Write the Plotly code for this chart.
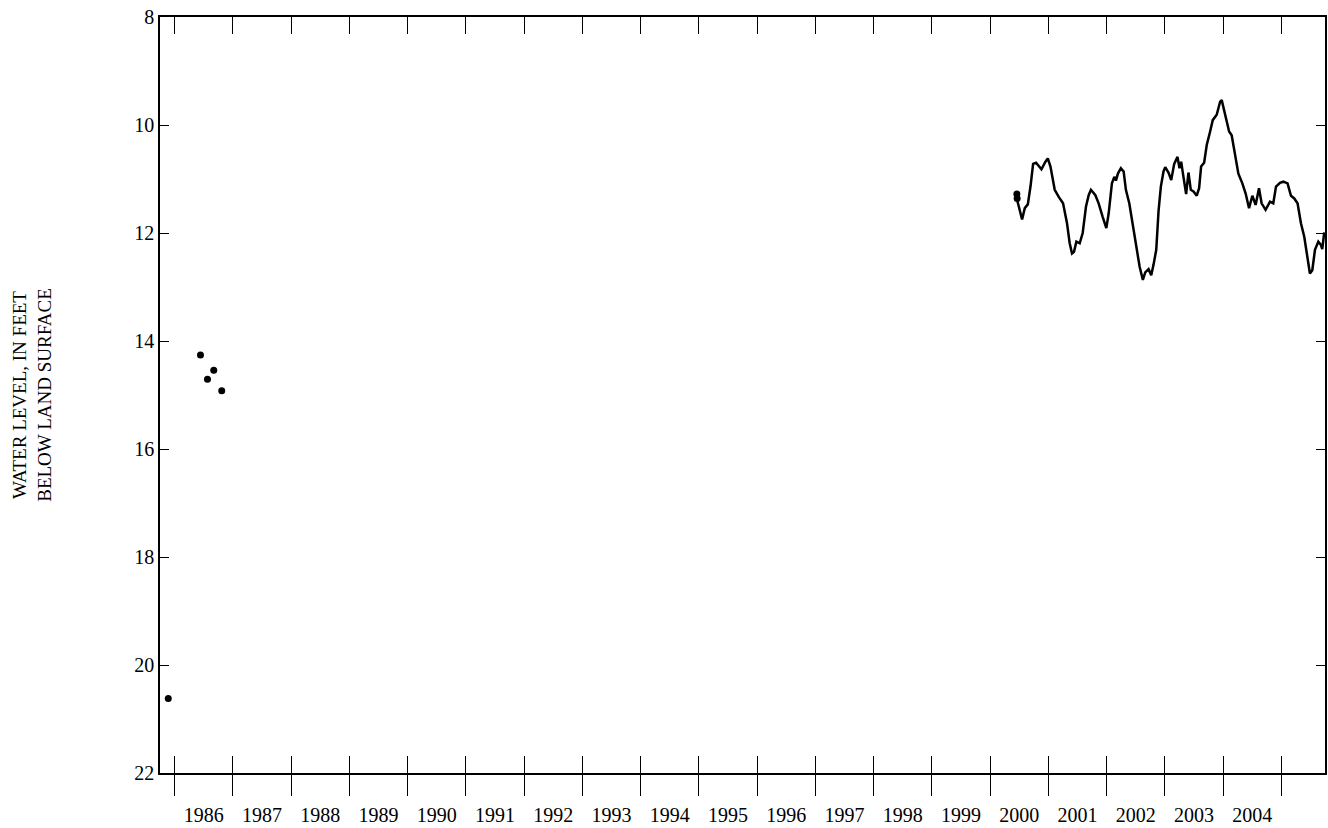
import plotly.graph_objects as go

# Discrete measurements (decimal year, feet below land surface)
dot_year = [1985.892, 1986.445, 1986.565, 1986.673, 1986.810, 2000.460, 2000.465]
dot_level = [20.62, 14.26, 14.71, 14.54, 14.92, 11.28, 11.36]

# Continuous record (decimal year, feet below land surface)
line_year = [
    2000.465, 2000.550, 2000.596, 2000.648, 2000.694, 2000.739, 2000.790, 2000.882,
    2000.951, 2000.991, 2001.037, 2001.110, 2001.179, 2001.253, 2001.321, 2001.367,
    2001.407, 2001.441, 2001.482, 2001.539, 2001.590, 2001.647, 2001.693, 2001.732,
    2001.808, 2001.864, 2001.933, 2001.996, 2002.036, 2002.092, 2002.133, 2002.161,
    2002.195, 2002.246, 2002.293, 2002.332, 2002.390, 2002.452, 2002.510, 2002.567,
    2002.623, 2002.664, 2002.721, 2002.767, 2002.806, 2002.853, 2002.892, 2002.932,
    2002.978, 2003.007, 2003.063, 2003.110, 2003.161, 2003.218, 2003.252, 2003.281,
    2003.320, 2003.366, 2003.406, 2003.446, 2003.492, 2003.548, 2003.589, 2003.623,
    2003.675, 2003.720, 2003.778, 2003.823, 2003.891, 2003.949, 2003.977, 2004.018,
    2004.063, 2004.104, 2004.148, 2004.206, 2004.263, 2004.331, 2004.388, 2004.446,
    2004.503, 2004.559, 2004.617, 2004.662, 2004.730, 2004.806, 2004.862, 2004.909,
    2004.977, 2005.034, 2005.107, 2005.166, 2005.222, 2005.279, 2005.337, 2005.394,
    2005.450, 2005.491, 2005.532, 2005.578, 2005.635, 2005.680, 2005.703, 2005.737,
]
line_level = [
    11.39, 11.75, 11.54, 11.47, 11.14, 10.72, 10.70, 10.82,
    10.68, 10.62, 10.77, 11.20, 11.33, 11.45, 11.82, 12.19,
    12.38, 12.35, 12.16, 12.19, 12.00, 11.51, 11.30, 11.20,
    11.30, 11.45, 11.70, 11.91, 11.64, 11.08, 10.96, 11.03,
    10.90, 10.80, 10.86, 11.20, 11.45, 11.88, 12.31, 12.62,
    12.87, 12.73, 12.67, 12.78, 12.59, 12.31, 11.60, 11.14,
    10.86, 10.78, 10.88, 11.02, 10.72, 10.59, 10.80, 10.68,
    10.96, 11.28, 10.88, 11.20, 11.23, 11.31, 11.17, 10.77,
    10.70, 10.37, 10.12, 9.91, 9.81, 9.57, 9.54, 9.72,
    9.97, 10.12, 10.19, 10.52, 10.90, 11.08, 11.27, 11.54,
    11.31, 11.48, 11.17, 11.45, 11.57, 11.42, 11.45, 11.14,
    11.07, 11.05, 11.08, 11.31, 11.36, 11.45, 11.82, 12.07,
    12.44, 12.75, 12.69, 12.31, 12.16, 12.22, 12.30, 11.99,
]

year_ticks = list(range(1986, 2006))
year_labels = [str(y) for y in range(1986, 2005)]
label_pos = [y + 0.5 for y in range(1986, 2005)]
level_ticks = list(range(8, 23, 2))

x_range = [1985.75, 2005.75]
FONT = "Liberation Serif, Times New Roman, serif"

fig = go.Figure()
fig.add_trace(go.Scatter(x=line_year, y=line_level, mode="lines",
                         line=dict(color="black", width=2.5), showlegend=False))
fig.add_trace(go.Scatter(x=dot_year, y=dot_level, mode="markers",
                         marker=dict(color="black", size=7), showlegend=False))

fig.update_layout(
    width=1328, height=828,
    margin=dict(l=160, r=1, t=17, b=55),
    paper_bgcolor="white", plot_bgcolor="white",
    font=dict(family=FONT, size=20, color="black"),
    xaxis=dict(range=x_range, tickmode="array", tickvals=year_ticks,
               ticks="outside", ticklen=21, tickwidth=1, tickcolor="black",
               showticklabels=False, showline=True, linecolor="black", linewidth=1.5,
               mirror=True, showgrid=False, zeroline=False),
    xaxis2=dict(range=x_range, overlaying="x", anchor="y", side="bottom",
                tickmode="array", tickvals=year_ticks,
                ticks="inside", ticklen=17, tickwidth=1, tickcolor="black",
                showticklabels=False, showline=True, linecolor="black", linewidth=1.5,
                mirror="ticks", showgrid=False, zeroline=False),
    xaxis3=dict(range=x_range, overlaying="x", anchor="y", side="bottom",
                tickmode="array", tickvals=label_pos, ticktext=year_labels,
                ticks="", showline=False, showgrid=False, zeroline=False,
                ticklabelstandoff=28,
                tickfont=dict(family=FONT, size=20, color="black")),
    yaxis=dict(range=[22, 8], tickmode="array", tickvals=level_ticks,
               ticks="inside", ticklen=9, tickwidth=1, tickcolor="black",
               showline=True, linecolor="black", linewidth=1.5, mirror="ticks",
               showgrid=False, zeroline=False, ticklabeloverflow="allow",
               tickfont=dict(family=FONT, size=20, color="black"),
               title=dict(text="WATER LEVEL, IN FEET<br>BELOW LAND SURFACE",
                          font=dict(family=FONT, size=19, color="black"),
                          standoff=78)),
)

# empty traces so the overlaying axes render
fig.add_trace(go.Scatter(x=[], y=[], xaxis="x2", showlegend=False))
fig.add_trace(go.Scatter(x=[], y=[], xaxis="x3", showlegend=False))

fig.write_html(
    "out.html",
    config={"displayModeBar": False},
    post_script="document.body.style.margin='0';document.body.style.overflow='hidden';",
)
